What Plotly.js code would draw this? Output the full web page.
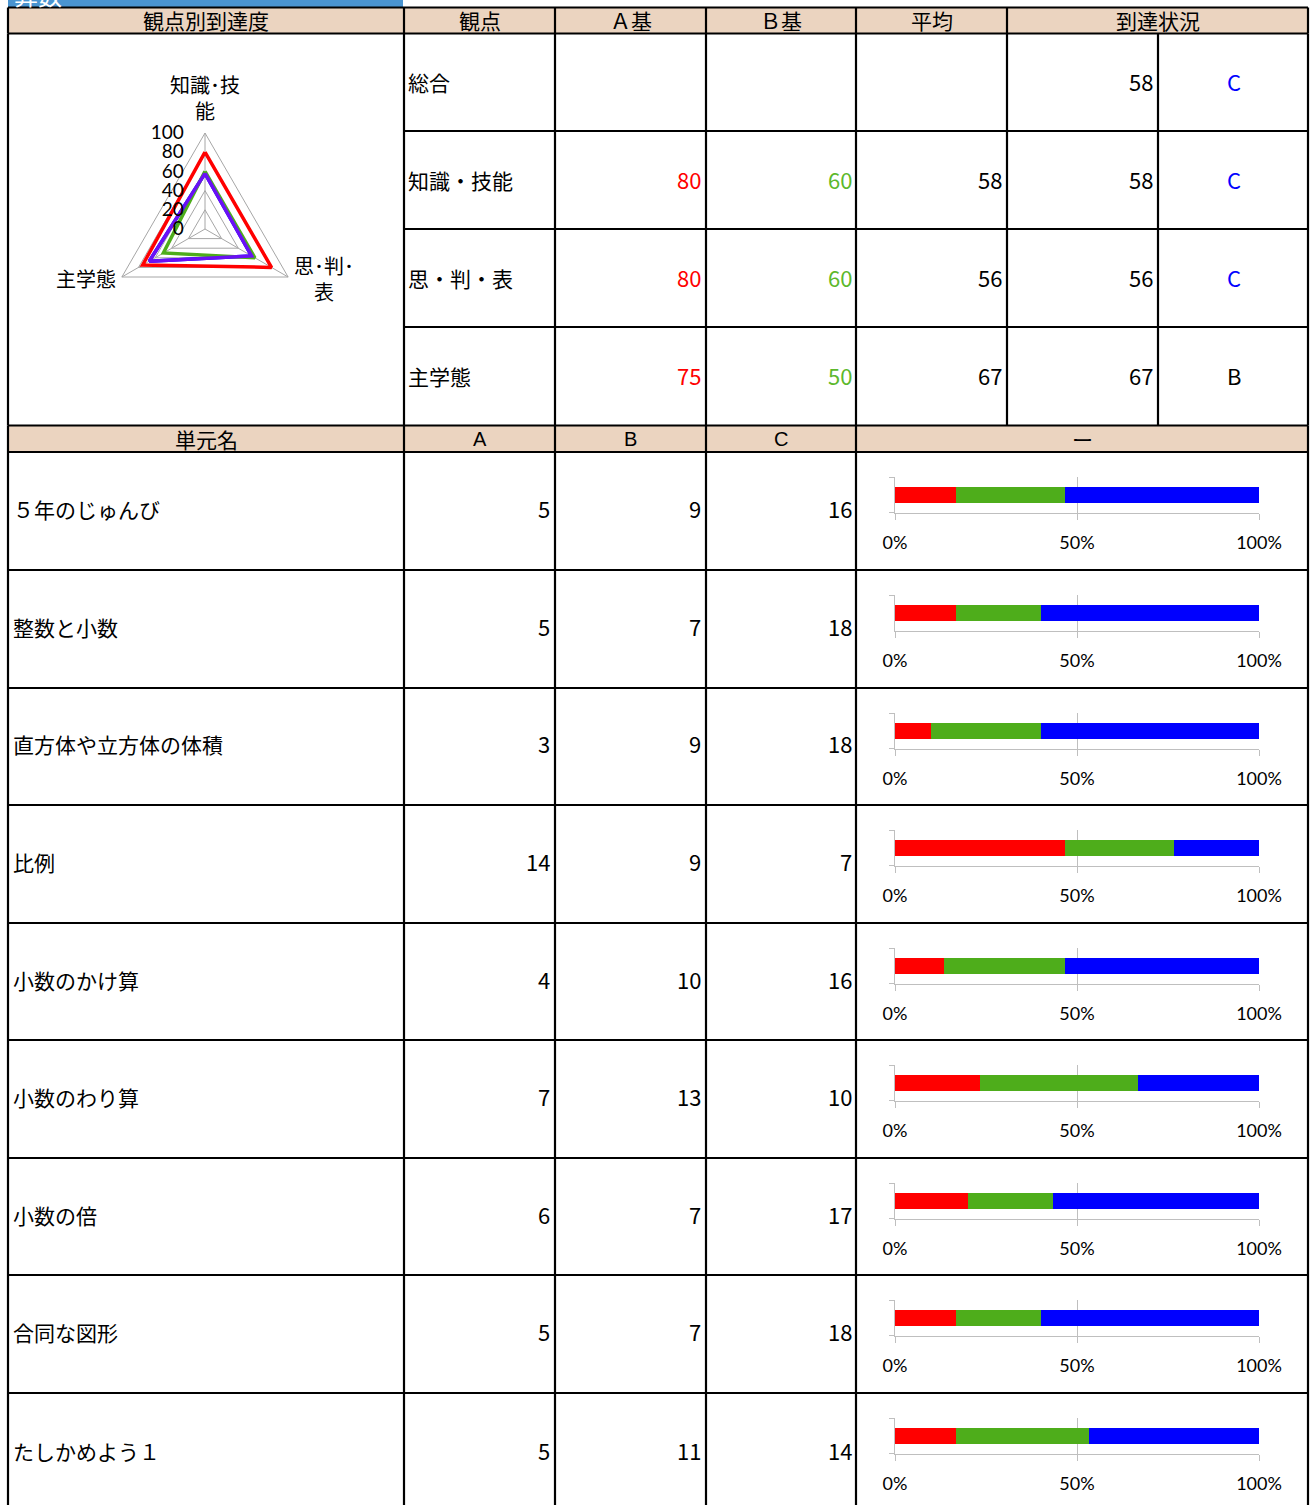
<!DOCTYPE html>
<html>
<head>
<meta charset="utf-8">
<script src="https://cdn.plot.ly/plotly-3.0.1.min.js"></script>
<style>html,body{margin:0;padding:0;background:#fff;}#chart{width:1312px;height:1505px;}</style>
</head>
<body>
<div id="chart"></div>
<script>
// ---------- data ----------
const subjectTitle = '算数';
const viewpoints = ['知識・技能', '思・判・表', '主学態'];
const viewpointTickText = ['知識･技<br>能', '思･判･<br>表', '主学態'];
const aKijun = [80, 80, 75];
const bKijun = [60, 60, 50];
const heikin = [58, 56, 67];
const totatsuScore = [58, 56, 67];
const totatsuGrade = ['C', 'C', 'B'];
const sogoScore = 58;
const sogoGrade = 'C';
const radialTicks = [0, 20, 40, 60, 80, 100];

const unitNames = ['５年のじゅんび', '整数と小数', '直方体や立方体の体積', '比例', '小数のかけ算', '小数のわり算', '小数の倍', '合同な図形', 'たしかめよう１'];
const countA = [5, 5, 3, 14, 4, 7, 6, 5, 5];
const countB = [9, 7, 9, 9, 10, 13, 7, 7, 11];
const countC = [16, 18, 18, 7, 16, 10, 17, 18, 14];
const pctTickVals = [0, 50, 100];
const pctTickText = ['0%', '50%', '100%'];

const header1 = ['観点別到達度', '観点', 'Ａ基', 'Ｂ基', '平均', '到達状況'];
const header2 = ['単元名', 'A', 'B', 'C', 'ー'];

// ---------- layout helpers ----------
const W = 1312, H = 1505;
const px = x => x / W;
const py = y => 1 - y / H;

const COLS = [8, 404, 555, 706, 856, 1007, 1158, 1308];
const H1 = [7.5, 33.5];
const TOPROWS = [33.5, 131, 229, 327, 425.5];
const H2 = [425.5, 452];
const UNITROWS = [452, 570, 688, 805, 923, 1040, 1158, 1275, 1393, 1512];

const RED = '#FF0000', GREEN = '#4EAD1B', BLUE = '#0000FF', PURPLE = '#6A10F5';
const TXTGREEN = '#5CB82C';
const BEIGE = '#EBD4C0';
const CJK = 'Noto Sans CJK JP, sans-serif';
const NUMF = 'Noto Sans CJK JP, sans-serif';

const shapes = [];
const annotations = [];

function rect(x0, y0, x1, y1, fill, layer) {
  shapes.push({type: 'rect', xref: 'paper', yref: 'paper', x0: px(x0), x1: px(x1), y0: py(y1), y1: py(y0),
    fillcolor: fill, line: {width: 0}, layer: layer || 'below'});
}
function hline(x0, x1, y) {
  shapes.push({type: 'line', xref: 'paper', yref: 'paper', x0: px(x0), x1: px(x1), y0: py(y), y1: py(y),
    line: {color: '#000', width: 2.2}, layer: 'above'});
}
function vline(x, y0, y1) {
  shapes.push({type: 'line', xref: 'paper', yref: 'paper', x0: px(x), x1: px(x), y0: py(y0), y1: py(y1),
    line: {color: '#000', width: 2.2}, layer: 'above'});
}
function txt(text, x, y, xanchor, font, align) {
  annotations.push({text: String(text), xref: 'paper', yref: 'paper', x: px(x), y: py(y),
    xanchor: xanchor, yanchor: 'middle', showarrow: false, font: font, align: align || 'center'});
}
const fCJK = {family: CJK, size: 21, color: '#000'};
const fHead = {family: CJK, size: 21, color: '#000'};
const fNum = c => ({family: NUMF, size: 22, color: c || '#000'});

// blue title strip (clipped by the page top, as in the reference)
rect(8, 0, 403, 7, '#4A94D0', 'below');
txt(subjectTitle, 12, -6, 'left', {family: CJK, size: 24, color: '#fff'});

// header fills
rect(COLS[0], H1[0], COLS[7], H1[1], BEIGE);
rect(COLS[0], H2[0], COLS[7], H2[1], BEIGE);

// header 1 texts
const h1Centers = [(COLS[0] + COLS[1]) / 2, (COLS[1] + COLS[2]) / 2, (COLS[2] + COLS[3]) / 2,
  (COLS[3] + COLS[4]) / 2, (COLS[4] + COLS[5]) / 2, (COLS[5] + COLS[7]) / 2];
header1.forEach((t, i) => txt(t, h1Centers[i], 20.5, 'center', fHead));

// header 2 texts
const h2Centers = [(COLS[0] + COLS[1]) / 2, (COLS[1] + COLS[2]) / 2, (COLS[2] + COLS[3]) / 2,
  (COLS[3] + COLS[4]) / 2, (COLS[4] + COLS[7]) / 2];
header2.forEach((t, i) => txt(t, h2Centers[i], 438.5, 'center',
  i === 0 || i === 4 ? fHead : {family: 'Liberation Sans, Arial, sans-serif', size: 20, color: '#000'}));

// top table body
const topLabelText = ['総合'].concat(viewpoints);
for (let r = 0; r < 4; r++) {
  const cy = (TOPROWS[r] + TOPROWS[r + 1]) / 2;
  txt(topLabelText[r], COLS[1] + 2, cy - 0.5, 'left', fCJK);
  const ny = cy - 1.5;
  if (r === 0) {
    txt(sogoScore, COLS[6] - 3, ny, 'right', fNum());
    txt(sogoGrade, (COLS[6] + COLS[7]) / 2 + 1, ny, 'center', fNum(sogoGrade === 'C' ? BLUE : '#000'));
  } else {
    const k = r - 1;
    txt(aKijun[k], COLS[3] - 3, ny, 'right', fNum(RED));
    txt(bKijun[k], COLS[4] - 2, ny, 'right', fNum(TXTGREEN));
    txt(heikin[k], COLS[5] - 3, ny, 'right', fNum());
    txt(totatsuScore[k], COLS[6] - 3, ny, 'right', fNum());
    txt(totatsuGrade[k], (COLS[6] + COLS[7]) / 2 + 1, ny, 'center', fNum(totatsuGrade[k] === 'C' ? BLUE : '#000'));
  }
}

// unit rows
for (let i = 0; i < unitNames.length; i++) {
  const cy = (UNITROWS[i] + UNITROWS[i + 1]) / 2 - 1.5;
  txt(unitNames[i], COLS[0] + 3, cy - 0.5, 'left', fCJK);
  txt(countA[i], COLS[2] - 3, cy - 1.5, 'right', fNum());
  txt(countB[i], COLS[3] - 3, cy - 1.5, 'right', fNum());
  txt(countC[i], COLS[4] - 2, cy - 1.5, 'right', fNum());
}

// radar category labels
const radarLabelPos = [[205, 97], [324, 278], [86, 278]];
viewpointTickText.forEach((t, i) => txt(t, radarLabelPos[i][0], radarLabelPos[i][1], 'center',
  {family: CJK, size: 20, color: '#000'}));

// grid lines
hline(COLS[0], COLS[7], H1[0]);
hline(COLS[0], COLS[7], H1[1]);
for (let r = 1; r < 4; r++) hline(COLS[1], COLS[7], TOPROWS[r]);
hline(COLS[0], COLS[7], H2[0]);
hline(COLS[0], COLS[7], H2[1]);
for (let i = 1; i < UNITROWS.length - 1; i++) hline(COLS[0], COLS[7], UNITROWS[i]);
[0, 1, 2, 3, 4, 5, 7].forEach(c => vline(COLS[c], H1[0], H1[1]));
[0, 1, 2, 3, 4, 5, 6, 7].forEach(c => vline(COLS[c], TOPROWS[0], TOPROWS[4]));
[0, 1, 2, 3, 4, 7].forEach(c => vline(COLS[c], H2[0], H));

// ---------- traces ----------
const data = [];
function closed(a) { return a.concat([a[0]]); }
const thetaClosed = closed(viewpoints);
data.push({type: 'scatterpolar', r: closed(totatsuScore), theta: thetaClosed, mode: 'lines',
  line: {color: BLUE, width: 3.5}, name: '到達状況', hoverinfo: 'skip'});
data.push({type: 'scatterpolar', r: closed(bKijun), theta: thetaClosed, mode: 'lines',
  line: {color: GREEN, width: 3.5}, name: 'B基', hoverinfo: 'skip'});
data.push({type: 'scatterpolar', r: closed(heikin), theta: thetaClosed, mode: 'lines',
  line: {color: PURPLE, width: 3.5}, name: '平均', hoverinfo: 'skip'});
data.push({type: 'scatterpolar', r: closed(aKijun), theta: thetaClosed, mode: 'lines',
  line: {color: RED, width: 3.5}, name: 'A基', hoverinfo: 'skip'});

const layout = {
  width: W, height: H,
  margin: {l: 0, r: 0, t: 0, b: 0},
  paper_bgcolor: '#fff', plot_bgcolor: 'rgba(0,0,0,0)',
  showlegend: false,
  barmode: 'stack', barnorm: 'percent', bargap: 0.556,
  shapes: shapes, annotations: annotations,
  polar: {
    domain: {x: [px(109), px(301)], y: [py(325), py(133)]},
    bgcolor: 'rgba(0,0,0,0)',
    gridshape: 'linear',
    angularaxis: {
      type: 'category', rotation: 90, direction: 'clockwise',
      categoryarray: viewpoints, categoryorder: 'array',
      showline: true, linecolor: '#A6A6A6', linewidth: 1,
      showgrid: true, gridcolor: '#A6A6A6', gridwidth: 1,
      ticks: '', showticklabels: false
    },
    radialaxis: {
      range: [0, 100], tickmode: 'array', tickvals: radialTicks,
      angle: 90, side: 'counterclockwise', tickangle: 90,
      showline: false, showgrid: true, gridcolor: '#A6A6A6', gridwidth: 1,
      ticks: 'outside', ticklen: 14, tickcolor: 'rgba(0,0,0,0)',
      tickfont: {family: 'Lato, Open Sans, sans-serif', size: 19, color: '#000'}
    }
  }
};

const segColors = [RED, GREEN, BLUE];
for (let i = 0; i < unitNames.length; i++) {
  const n = i + 1;
  const xa = 'x' + (n === 1 ? '' : n), ya = 'y' + (n === 1 ? '' : n);
  const segs = [countA[i], countB[i], countC[i]];
  const segNames = ['A', 'B', 'C'];
  segs.forEach((v, k) => data.push({type: 'bar', orientation: 'h', x: [v], y: [unitNames[i]],
    xaxis: xa, yaxis: ya, marker: {color: segColors[k], line: {width: 0}}, name: segNames[k], hoverinfo: 'skip'}));
  const top = UNITROWS[i];
  layout['xaxis' + (n === 1 ? '' : n)] = {
    domain: [px(895), px(1259)], anchor: ya, range: [0, 100],
    tickmode: 'array', tickvals: pctTickVals, ticktext: pctTickText,
    showgrid: true, gridcolor: '#BFBFBF', gridwidth: 1, zeroline: false,
    showline: true, linecolor: '#BFBFBF', linewidth: 1,
    ticks: 'outside', ticklen: 6, tickcolor: '#BFBFBF', ticklabelstandoff: 8,
    tickfont: {family: 'Lato, Open Sans, sans-serif', size: 18, color: '#000'}, fixedrange: true
  };
  layout['yaxis' + (n === 1 ? '' : n)] = {
    domain: [py(top + 60.5), py(top + 25)], anchor: xa, type: 'category', range: [-0.5, 0.5],
    showline: true, linecolor: '#BFBFBF', linewidth: 1,
    ticks: 'outside', ticklen: 5, tickcolor: '#BFBFBF', tickson: 'boundaries',
    showticklabels: false, showgrid: false, zeroline: false, fixedrange: true
  };
}

Plotly.newPlot('chart', data, layout, {staticPlot: true, displayModeBar: false});
</script>
</body>
</html>
